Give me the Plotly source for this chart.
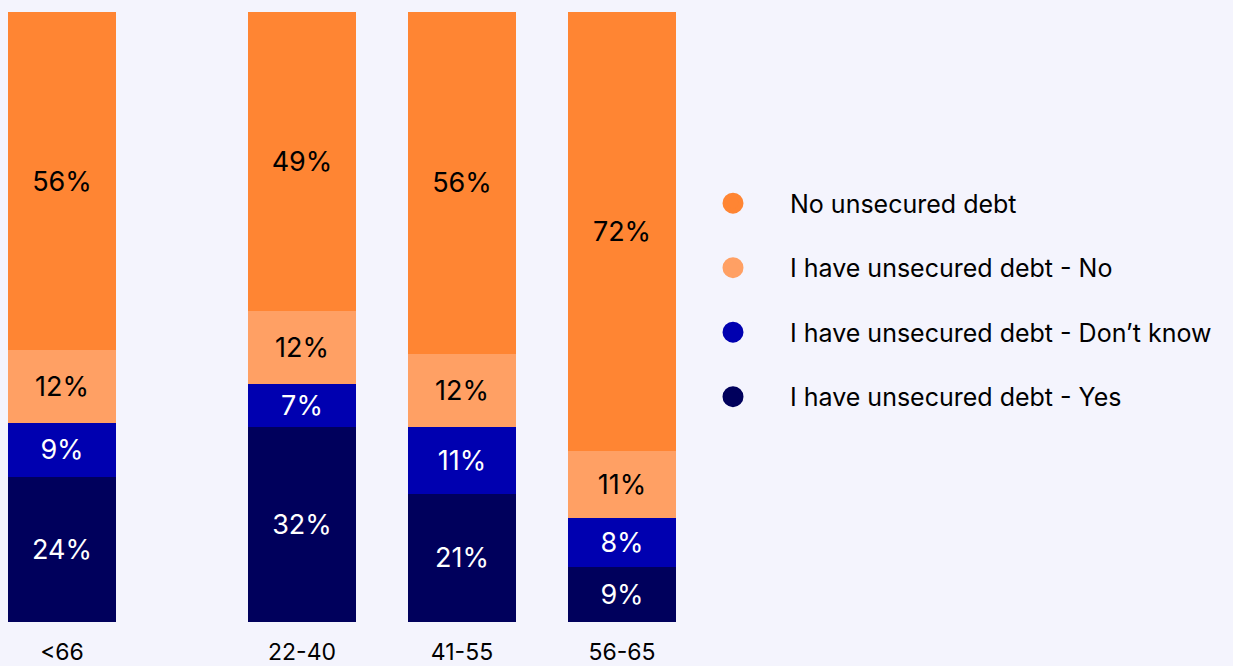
import plotly.graph_objects as go

# ---- data ----
age_groups = ["<66", "22-40", "41-55", "56-65"]
yes_debt = [24, 32, 21, 9]
dont_know = [9, 7, 11, 8]
no_answer = [12, 12, 12, 11]
no_unsecured = [56, 49, 56, 72]

series_names = [
    "I have unsecured debt - Yes",
    "I have unsecured debt - Don’t know",
    "I have unsecured debt - No",
    "No unsecured debt",
]
series_values = [yes_debt, dont_know, no_answer, no_unsecured]

# ---- styles ----
colors = ["#00005C", "#0000B0", "#FFA064", "#FF8533"]
text_colors = ["white", "white", "black", "black"]
FONT = "Inter, Lato, sans-serif"
BG = "#F4F4FD"

# layout positions of the groups (first group set apart)
x_pos = [0, 1.5, 2.5, 3.5]

fig = go.Figure()
for name, vals, col, tcol in zip(series_names, series_values, colors, text_colors):
    fig.add_trace(go.Bar(
        x=x_pos, y=vals, name=name,
        marker=dict(color=col, line=dict(width=0)),
        width=0.67,
        text=[f"{v}%" for v in vals],
        texttemplate="%{text}",
        textposition="inside",
        insidetextanchor="middle",
        textangle=0,
        textfont=dict(color=tcol, size=27, family=FONT),
        showlegend=False,
        hoverinfo="skip",
    ))

# legend entries with round markers (top entry = top of stack)
n = len(series_names)
for i, (name, col) in enumerate(zip(series_names, colors)):
    fig.add_trace(go.Scatter(
        x=[None], y=[None], mode="markers", name=name,
        marker=dict(color=col, size=16, line=dict(color=col, width=5)),
        legendgroup=f"g{i}", legendrank=n - i, showlegend=True,
    ))

W, H = 1233, 666
plot_right = 700
fig.update_layout(
    width=W, height=H,
    barmode="stack", barnorm="percent",
    paper_bgcolor=BG, plot_bgcolor=BG,
    margin=dict(l=0, r=0, t=12, b=44),
    font=dict(family=FONT, color="black"),
    xaxis=dict(
        domain=[0, plot_right / W],
        range=[-62 / 160, (plot_right - 62) / 160],
        tickvals=x_pos, ticktext=age_groups,
        tickfont=dict(size=23, family=FONT, color="black"),
        showgrid=False, zeroline=False, showline=False, ticks="",
        ticklabelstandoff=14, automargin=False,
    ),
    yaxis=dict(range=[0, 100], visible=False, showgrid=False, zeroline=False,
               automargin=False),
    legend=dict(
        x=676 / W, y=0.528, xanchor="left", yanchor="middle",
        traceorder="grouped",
        font=dict(size=25, family=FONT, color="black"),
        itemwidth=104,
        tracegroupgap=29,
        bgcolor="rgba(0,0,0,0)",
    ),
    showlegend=True,
)

fig.write_html(
    "out.html",
    config={"displayModeBar": False},
    post_script="document.body.style.margin='0';document.body.style.background='%s';" % BG,
)
